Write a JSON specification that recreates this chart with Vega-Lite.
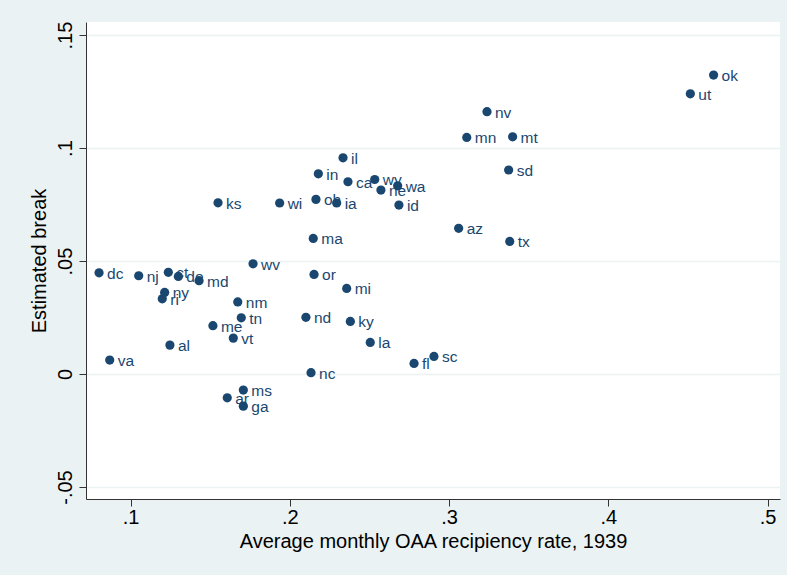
{
  "$schema": "https://vega.github.io/schema/vega-lite/v6.json",
  "autosize": {"type": "none"},
  "width": 694,
  "height": 477,
  "padding": {"left": 86, "top": 22, "right": 7, "bottom": 76},
  "background": "#eaf2f3",
  "config": {
    "view": {"stroke": null, "fill": "white"},
    "font": "Liberation Sans",
    "axis": {
      "labelFont": "Liberation Sans",
      "titleFont": "Liberation Sans",
      "labelFontSize": 20,
      "titleFontSize": 20,
      "titleFontWeight": "normal",
      "labelColor": "#000000",
      "titleColor": "#000000",
      "domainColor": "#333333",
      "domainWidth": 1,
      "tickColor": "#333333",
      "tickWidth": 1,
      "tickSize": 7
    }
  },
  "data": {
    "values": [
      {"state": "ok", "rate": 0.4661, "brk": 0.1323},
      {"state": "ut", "rate": 0.4515, "brk": 0.1240},
      {"state": "nv", "rate": 0.3238, "brk": 0.1161},
      {"state": "mn", "rate": 0.3111, "brk": 0.1047},
      {"state": "mt", "rate": 0.3399, "brk": 0.1050},
      {"state": "sd", "rate": 0.3374, "brk": 0.0903},
      {"state": "az", "rate": 0.3060, "brk": 0.0645},
      {"state": "tx", "rate": 0.3381, "brk": 0.0587},
      {"state": "il", "rate": 0.2334, "brk": 0.0957},
      {"state": "in", "rate": 0.2179, "brk": 0.0886},
      {"state": "ca", "rate": 0.2365, "brk": 0.0851},
      {"state": "wy", "rate": 0.2533, "brk": 0.0861},
      {"state": "wa", "rate": 0.2677, "brk": 0.0833},
      {"state": "ne", "rate": 0.2572, "brk": 0.0814},
      {"state": "id", "rate": 0.2685, "brk": 0.0748},
      {"state": "ks", "rate": 0.1549, "brk": 0.0758},
      {"state": "wi", "rate": 0.1936, "brk": 0.0757},
      {"state": "oh", "rate": 0.2164, "brk": 0.0773},
      {"state": "ia", "rate": 0.2294, "brk": 0.0757},
      {"state": "ma", "rate": 0.2147, "brk": 0.0600},
      {"state": "wv", "rate": 0.1769, "brk": 0.0488},
      {"state": "dc", "rate": 0.0802, "brk": 0.0448},
      {"state": "nj", "rate": 0.1051, "brk": 0.0435},
      {"state": "ct", "rate": 0.1237, "brk": 0.0450},
      {"state": "de", "rate": 0.1300, "brk": 0.0432},
      {"state": "md", "rate": 0.1430, "brk": 0.0413},
      {"state": "ny", "rate": 0.1214, "brk": 0.0361},
      {"state": "ri", "rate": 0.1199, "brk": 0.0333},
      {"state": "nm", "rate": 0.1673, "brk": 0.0319},
      {"state": "tn", "rate": 0.1695, "brk": 0.0249},
      {"state": "me", "rate": 0.1517, "brk": 0.0214},
      {"state": "vt", "rate": 0.1645, "brk": 0.0159},
      {"state": "al", "rate": 0.1247, "brk": 0.0128},
      {"state": "va", "rate": 0.0869, "brk": 0.0062},
      {"state": "or", "rate": 0.2152, "brk": 0.0441},
      {"state": "mi", "rate": 0.2357, "brk": 0.0379},
      {"state": "nd", "rate": 0.2101, "brk": 0.0251},
      {"state": "ky", "rate": 0.2380, "brk": 0.0233},
      {"state": "la", "rate": 0.2505, "brk": 0.0140},
      {"state": "sc", "rate": 0.2905, "brk": 0.0078},
      {"state": "fl", "rate": 0.2780, "brk": 0.0047},
      {"state": "nc", "rate": 0.2133, "brk": 0.0006},
      {"state": "ms", "rate": 0.1708, "brk": -0.0071},
      {"state": "ar", "rate": 0.1607, "brk": -0.0105},
      {"state": "ga", "rate": 0.1708, "brk": -0.0142}
    ]
  },
  "encoding": {
    "x": {
      "field": "rate",
      "type": "quantitative",
      "scale": {"domain": [0.072, 0.5078], "nice": false, "zero": false},
      "axis": {
        "title": "Average monthly OAA recipiency rate, 1939",
        "values": [0.1, 0.2, 0.3, 0.4, 0.5],
        "labelExpr": "replace(toString(datum.value), '0.', '.')",
        "grid": false,
        "labelPadding": 1,
        "titlePadding": 4
      }
    },
    "y": {
      "field": "brk",
      "type": "quantitative",
      "scale": {"domain": [-0.0553, 0.1558], "nice": false, "zero": false},
      "axis": {
        "title": "Estimated break",
        "values": [-0.05, 0, 0.05, 0.1, 0.15],
        "labelExpr": "datum.value == 0 ? '0' : replace(toString(datum.value), '0.', '.')",
        "labelAngle": 270,
        "labelAlign": "center",
        "labelBaseline": "bottom",
        "labelPadding": 4,
        "grid": true,
        "gridColor": "#eaf2f3",
        "gridWidth": 1.5,
        "titlePadding": 6
      }
    }
  },
  "layer": [
    {
      "mark": {"type": "point", "filled": true, "shape": "circle", "size": 85, "color": "#1a476f", "opacity": 1}
    },
    {
      "mark": {"type": "text", "align": "left", "baseline": "middle", "dx": 8, "dy": 1, "fontSize": 15.5, "color": "#1a476f", "font": "Liberation Sans"},
      "encoding": {"text": {"field": "state"}}
    }
  ]
}
